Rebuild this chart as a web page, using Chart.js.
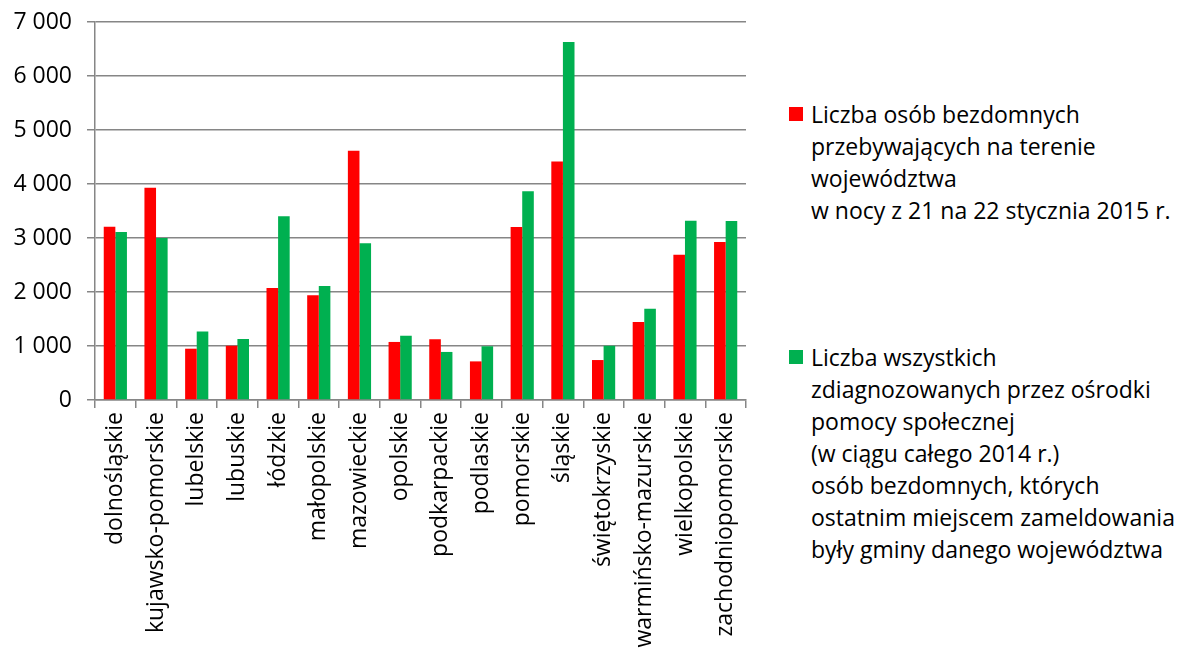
<!DOCTYPE html>
<html>
<head>
<meta charset="utf-8">
<script src="https://cdn.jsdelivr.net/npm/chart.js@4.4.1/dist/chart.umd.min.js"></script>
<style>
  body { margin: 0; background: #fff; font-family: "Open Sans", sans-serif; }
  #wrap { position: absolute; left: 0; top: 0; width: 750px; height: 654px; }
  .leg { position: absolute; left: 789px; font-size: 23px; line-height: 32px; color: #000; }
  .leg .sq { position: absolute; left: 0; top: 9px; width: 14px; height: 14px; }
  .leg .tx { margin-left: 22px; white-space: pre; }
</style>
</head>
<body>
<div id="wrap"><canvas id="c"></canvas></div>
<div id="legend"></div>
<script>
const categories = ['dolnośląskie', 'kujawsko-pomorskie', 'lubelskie', 'lubuskie', 'łódzkie', 'małopolskie',
  'mazowieckie', 'opolskie', 'podkarpackie', 'podlaskie', 'pomorskie', 'śląskie', 'świętokrzyskie',
  'warmińsko-mazurskie', 'wielkopolskie', 'zachodniopomorskie'];

const nocne2015 = [3210, 3930, 950, 1005, 2075, 1940, 4615, 1075, 1125, 715, 3205, 4415, 740, 1445, 2690, 2925];
const zdiagnozowani2014 = [3110, 3000, 1270, 1130, 3405, 2110, 2905, 1190, 890, 995, 3865, 6630, 1005, 1690, 3320, 3315];

const seriesLabels = [
  'Liczba osób bezdomnych\nprzebywających na terenie\nwojewództwa\nw nocy z 21 na 22 stycznia 2015 r.',
  'Liczba wszystkich\nzdiagnozowanych przez ośrodki\npomocy społecznej\n(w ciągu całego 2014 r.)\nosób bezdomnych, których\nostatnim miejscem zameldowania\nbyły gminy danego województwa'
];
const seriesColors = ['#ff0000', '#00b050'];
const legendTops = [98, 341];

const yTicks = [0, 1000, 2000, 3000, 4000, 5000, 6000, 7000];

const fmt = v => String(v).replace(/\B(?=(\d{3})+(?!\d))/g, ' ');
const axisFont = { family: 'Open Sans', size: 23 };
const gray = '#868686';

// legend in html
const legendDiv = document.getElementById('legend');
seriesLabels.forEach((lab, i) => {
  const item = document.createElement('div');
  item.className = 'leg';
  item.style.top = legendTops[i] + 'px';
  item.innerHTML = '<div class="sq" style="background:' + seriesColors[i] + '"></div><div class="tx"></div>';
  item.querySelector('.tx').textContent = lab;
  legendDiv.appendChild(item);
});

new Chart(document.getElementById('c'), {
  type: 'bar',
  data: {
    labels: categories,
    datasets: [
      { label: seriesLabels[0], data: nocne2015, backgroundColor: seriesColors[0] },
      { label: seriesLabels[1], data: zdiagnozowani2014, backgroundColor: seriesColors[1] }
    ]
  },
  options: {
    responsive: true,
    maintainAspectRatio: false,
    devicePixelRatio: 1,
    animation: false,
    categoryPercentage: 0.57,
    barPercentage: 1.0,
    layout: { autoPadding: false, padding: { top: 22, right: 4, left: 0, bottom: 0 } },
    plugins: { legend: { display: false }, tooltip: { enabled: false } },
    scales: {
      x: {
        offset: true,
        afterFit: s => { s.height = 254; s.paddingLeft = 0; s.paddingRight = 0; },
        grid: { offset: true, drawOnChartArea: false, drawTicks: true, tickLength: 8, color: gray, lineWidth: 1.5 },
        border: { color: gray, width: 1.5 },
        ticks: { minRotation: 90, maxRotation: 90, autoSkip: false, padding: 4, color: '#000', font: axisFont }
      },
      y: {
        min: 0,
        max: 7000,
        afterFit: s => { s.width = 95; s.paddingTop = 0; s.paddingBottom = 0; },
        afterBuildTicks: s => { s.ticks = yTicks.map(v => ({ value: v })); },
        grid: { color: gray, lineWidth: 1.5, tickLength: 8 },
        border: { color: gray, width: 1.5 },
        ticks: { padding: 15, color: '#000', font: axisFont, callback: v => fmt(v) }
      }
    }
  }
});
</script>
</body>
</html>
